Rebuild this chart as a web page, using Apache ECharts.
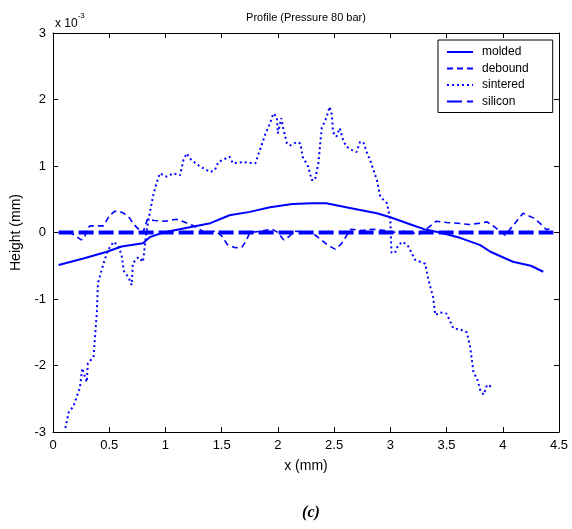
<!DOCTYPE html>
<html><head><meta charset="utf-8">
<script src="https://cdn.jsdelivr.net/npm/echarts@6/dist/echarts.min.js"></script>
<style>html,body{margin:0;padding:0;background:#fff}#c{width:572px;height:529px}</style>
</head><body><div id="c"></div>
<script>
// Heights in units of 1e-3 mm
const seriesNames = ['molded', 'debound', 'sintered', 'silicon'];
const xTicks = ['0','0.5','1','1.5','2','2.5','3','3.5','4','4.5'];
const yTicks = ['-3','-2','-1','0','1','2','3'];

const molded = [[0.05,-0.49],[0.27,-0.39],[0.48,-0.29],[0.61,-0.21],[0.8,-0.16],[0.86,-0.07],[0.98,0.0],[1.25,0.09],[1.4,0.14],[1.57,0.26],[1.75,0.31],[1.93,0.38],[2.13,0.43],[2.3,0.44],[2.43,0.44],[2.64,0.37],[2.88,0.29],[3.0,0.23],[3.2,0.11],[3.3,0.05],[3.44,0.0],[3.62,-0.08],[3.8,-0.19],[3.89,-0.29],[4.09,-0.44],[4.25,-0.5],[4.36,-0.59]];

const debound = [[0.05,0.0],[0.15,0.0],[0.2,-0.05],[0.25,-0.11],[0.28,-0.08],[0.3,0.05],[0.33,0.1],[0.45,0.1],[0.5,0.25],[0.55,0.32],[0.62,0.3],[0.68,0.22],[0.72,0.12],[0.76,0.05],[0.8,0.0],[0.84,0.2],[0.9,0.18],[1.0,0.17],[1.1,0.2],[1.18,0.15],[1.25,0.1],[1.3,0.05],[1.35,0.0],[1.45,0.02],[1.5,-0.05],[1.55,-0.18],[1.62,-0.23],[1.68,-0.22],[1.72,-0.12],[1.75,0.0],[1.85,0.02],[1.95,0.05],[2.0,0.0],[2.05,-0.11],[2.1,-0.06],[2.15,0.02],[2.3,0.0],[2.38,-0.1],[2.45,-0.2],[2.51,-0.25],[2.56,-0.18],[2.61,-0.05],[2.65,0.05],[2.75,0.03],[2.85,0.05],[2.95,0.03],[3.05,0.0],[3.15,0.02],[3.25,-0.03],[3.32,0.05],[3.41,0.17],[3.5,0.15],[3.6,0.14],[3.7,0.12],[3.8,0.14],[3.86,0.16],[3.93,0.08],[4.02,-0.04],[4.1,0.12],[4.18,0.29],[4.27,0.22],[4.33,0.14],[4.39,0.04],[4.45,0.08]];

const sintered = [[0.11,-2.94],[0.14,-2.7],[0.18,-2.62],[0.24,-2.33],[0.26,-2.04],[0.29,-2.2],[0.3,-2.25],[0.31,-1.97],[0.36,-1.87],[0.39,-1.21],[0.4,-0.76],[0.45,-0.46],[0.49,-0.26],[0.54,-0.14],[0.58,-0.2],[0.61,-0.34],[0.63,-0.58],[0.67,-0.67],[0.7,-0.79],[0.71,-0.46],[0.76,-0.37],[0.8,-0.44],[0.82,-0.16],[0.83,0.0],[0.86,0.29],[0.89,0.55],[0.92,0.74],[0.95,0.89],[1.01,0.84],[1.07,0.89],[1.13,0.86],[1.16,1.09],[1.19,1.19],[1.23,1.09],[1.31,0.99],[1.4,0.91],[1.44,0.94],[1.47,1.06],[1.57,1.14],[1.6,1.04],[1.69,1.06],[1.8,1.04],[1.83,1.19],[1.89,1.49],[1.93,1.64],[1.96,1.79],[1.99,1.74],[2.0,1.49],[2.03,1.72],[2.05,1.55],[2.08,1.34],[2.11,1.31],[2.17,1.36],[2.2,1.34],[2.22,1.14],[2.27,0.99],[2.3,0.79],[2.33,0.79],[2.36,1.04],[2.39,1.57],[2.43,1.72],[2.46,1.89],[2.48,1.77],[2.49,1.51],[2.52,1.44],[2.55,1.57],[2.58,1.39],[2.61,1.29],[2.66,1.24],[2.7,1.21],[2.73,1.36],[2.76,1.36],[2.79,1.21],[2.82,1.09],[2.88,0.79],[2.91,0.54],[2.97,0.44],[3.0,0.19],[3.01,-0.3],[3.04,-0.31],[3.07,-0.19],[3.11,-0.14],[3.16,-0.21],[3.22,-0.41],[3.31,-0.47],[3.34,-0.72],[3.38,-0.97],[3.4,-1.24],[3.44,-1.2],[3.5,-1.22],[3.56,-1.44],[3.64,-1.47],[3.68,-1.5],[3.71,-1.72],[3.74,-2.11],[3.77,-2.19],[3.8,-2.37],[3.83,-2.44],[3.86,-2.29],[3.9,-2.32]];

const silicon = [[0.05,0.0],[4.45,0.0]];

const BLUE = '#0000ff';
const FONT = 'Liberation Sans';
const chart = echarts.init(document.getElementById('c'), null, {renderer:'canvas'});

const axisCommon = {
  axisLine: {show:true, onZero:false, lineStyle:{color:'#000', width:1}},
  axisTick: {show:true, inside:true, length:5, lineStyle:{color:'#000'}},
  splitLine: {show:false}
};

chart.setOption({
  backgroundColor: '#fff',
  animation: false,
  title: [{
    text: 'Profile (Pressure 80 bar)', left: 306, top: 12, textAlign: 'center', padding: 0,
    textStyle: {fontFamily: FONT, fontSize: 11, fontWeight: 'normal', color: '#000'}
  }, {
    text: '(c)', left: 306, top: 500, textAlign: 'center',
    textStyle: {fontFamily: 'Liberation Serif', fontSize: 16, fontWeight: 'bold', fontStyle: 'italic', color: '#000'}
  }],
  grid: {left: 53, right: 13, top: 33, bottom: 97, containLabel: false},
  legend: {
    orient: 'vertical', left: 438, top: 40, width: 114,
    data: seriesNames,
    backgroundColor: '#fff', borderColor: '#000', borderWidth: 1,
    padding: [6, 24, 5, 8], itemGap: 4.5, itemWidth: 26, itemHeight: 13,
    itemStyle: {color: 'transparent', borderColor: 'transparent', borderWidth: 0, opacity: 0},
    textStyle: {fontFamily: FONT, fontSize: 12, color: '#000', padding: [0,0,0,4]}
  },
  xAxis: [{
    type: 'value', min: 0, max: 4.5, interval: 0.5, position: 'bottom',
    name: 'x (mm)', nameLocation: 'middle', nameGap: 27,
    nameTextStyle: {fontFamily: FONT, fontSize: 14, color: '#000'},
    axisLabel: {fontFamily: FONT, fontSize: 13, color: '#000', margin: 7,
      formatter: v => xTicks[Math.round(v / 0.5)]},
    ...axisCommon
  }, {
    type: 'value', min: 0, max: 4.5, interval: 0.5, position: 'top',
    axisLabel: {show: false}, ...axisCommon
  }],
  yAxis: [{
    type: 'value', min: -3, max: 3, interval: 1, position: 'left',
    name: 'Height (mm)', nameLocation: 'middle', nameGap: 27,
    nameTextStyle: {fontFamily: FONT, fontSize: 14, color: '#000'},
    axisLabel: {fontFamily: FONT, fontSize: 13, color: '#000', margin: 7,
      formatter: v => yTicks[Math.round(v + 3)]},
    ...axisCommon
  }, {
    type: 'value', min: -3, max: 3, interval: 1, position: 'right',
    axisLabel: {show: false}, ...axisCommon
  }],
  graphic: [{
    type: 'text', left: 55, top: 12,
    style: {
      text: '{a|x 10}{b|-3}',
      rich: {
        a: {fontFamily: FONT, fontSize: 12, color: '#000', verticalAlign: 'bottom', padding: [6,0,0,0]},
        b: {fontFamily: FONT, fontSize: 8, color: '#000', verticalAlign: 'top'}
      }
    }
  }],
  series: [
    {name: 'molded', type: 'line', data: molded, symbol: 'none', color: BLUE,
     lineStyle: {color: BLUE, width: 2, type: 'solid'}, z: 3},
    {name: 'debound', type: 'line', data: debound, symbol: 'none', color: BLUE,
     lineStyle: {color: BLUE, width: 1.6, type: [6, 4]}, z: 3},
    {name: 'sintered', type: 'line', data: sintered, symbol: 'none', color: BLUE,
     lineStyle: {color: BLUE, width: 2, type: [2, 3]}, z: 3},
    {name: 'silicon', type: 'line', data: silicon, symbol: 'none', color: BLUE,
     lineStyle: {color: BLUE, width: 4, type: [15, 5]}, z: 2}
  ]
});
</script></body></html>
